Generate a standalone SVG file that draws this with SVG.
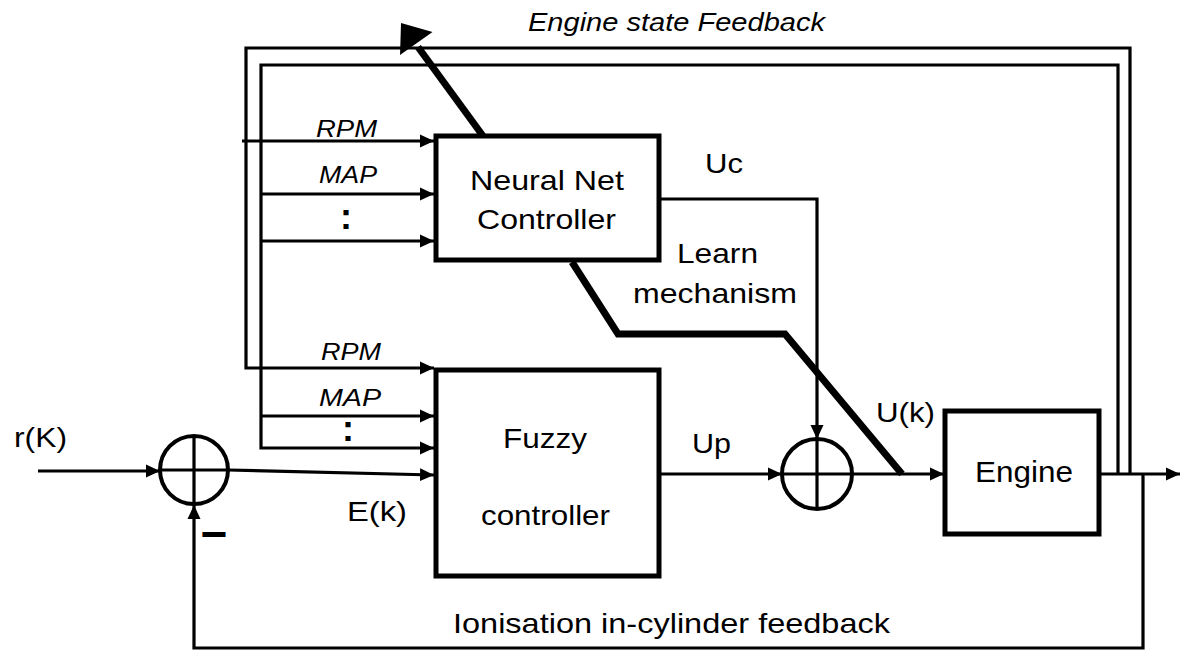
<svg xmlns="http://www.w3.org/2000/svg" width="1181" height="651" viewBox="0 0 1181 651">
<style>
.t{font-family:"Liberation Sans",Arial,sans-serif;fill:#000;}
.i{font-style:italic;}
.box{fill:#fff;stroke:#000;stroke-width:5;}
.ln{fill:none;stroke:#000;stroke-width:3.2;}
.thk{fill:none;stroke:#000;stroke-width:7;stroke-linejoin:miter;}
.sum{fill:none;stroke:#000;stroke-width:4;}
</style>
<defs>
<marker id="ah" markerUnits="userSpaceOnUse" markerWidth="15" markerHeight="16" refX="14" refY="8" orient="auto">
<path d="M0,1.5 L14,8 L0,14.5 Z" fill="#000"/>
</marker>
</defs>
<rect width="1181" height="651" fill="#fff"/>
<g id="connectors">
<polyline class="ln" points="1130,474 1130,48 246,48 246,368 434,368" marker-end="url(#ah)"/>
<line class="ln" x1="242" y1="141" x2="434" y2="141" marker-end="url(#ah)"/>
<polyline class="ln" points="1118,474 1118,65 261,65 261,448 434,448" marker-end="url(#ah)"/>
<line class="ln" x1="261" y1="194" x2="434" y2="194" marker-end="url(#ah)"/>
<line class="ln" x1="261" y1="241" x2="434" y2="241" marker-end="url(#ah)"/>
<line class="ln" x1="261" y1="416" x2="434" y2="416" marker-end="url(#ah)"/>
<line class="ln" x1="38" y1="471" x2="160" y2="471" marker-end="url(#ah)"/>
<line class="ln" x1="228" y1="470" x2="434" y2="475" marker-end="url(#ah)"/>
<line class="ln" x1="659" y1="474" x2="782" y2="474" marker-end="url(#ah)"/>
<polyline class="ln" points="659,199 817,199 817,439" marker-end="url(#ah)"/>
<line class="ln" x1="852" y1="474" x2="944" y2="474" marker-end="url(#ah)"/>
<line class="ln" x1="1099" y1="474" x2="1180" y2="474" marker-end="url(#ah)"/>
<polyline class="ln" points="1143,474 1143,648 194,648 194,505" marker-end="url(#ah)"/>
<polyline class="thk" points="572,262 618,334 785,334 902,474"/>
<line class="thk" x1="483" y1="136" x2="418" y2="47"/>
<polygon points="432.5,32 400,55 401,23" fill="#000"/>
</g>
<g id="sum1">
<circle class="sum" cx="194" cy="470" r="34"/>
<line class="ln" x1="160" y1="470" x2="228" y2="470"/>
<line class="ln" x1="194" y1="436" x2="194" y2="504"/>
</g>
<g id="sum2">
<circle class="sum" cx="817" cy="474" r="35"/>
<line class="ln" x1="782" y1="474" x2="852" y2="474"/>
<line class="ln" x1="817" y1="439" x2="817" y2="509"/>
</g>
<g id="nn">
<rect class="box" x="436" y="136" width="223" height="124"/>
<text class="t" x="470" y="190" font-size="28" textLength="154" lengthAdjust="spacingAndGlyphs">Neural Net</text>
<text class="t" x="477" y="229" font-size="28" textLength="139" lengthAdjust="spacingAndGlyphs">Controller</text>
</g>
<g id="fuzzy">
<rect class="box" x="436" y="370" width="223" height="206"/>
<text class="t" x="503" y="448" font-size="28" textLength="84" lengthAdjust="spacingAndGlyphs">Fuzzy</text>
<text class="t" x="481" y="525" font-size="28" textLength="129" lengthAdjust="spacingAndGlyphs">controller</text>
</g>
<g id="engine">
<rect class="box" x="945" y="411" width="154" height="123"/>
<text class="t" x="975" y="482" font-size="30" textLength="98" lengthAdjust="spacingAndGlyphs">Engine</text>
</g>
<g id="labels">
<text class="t i" x="528" y="31" font-size="26" textLength="297" lengthAdjust="spacingAndGlyphs">Engine state Feedback</text>
<text class="t i" x="316" y="137" font-size="24" textLength="61" lengthAdjust="spacingAndGlyphs">RPM</text>
<text class="t i" x="319" y="183" font-size="24" textLength="58" lengthAdjust="spacingAndGlyphs">MAP</text>
<text class="t" x="346" y="229" font-size="36" font-weight="bold" text-anchor="middle">:</text>
<text class="t i" x="321" y="360" font-size="24" textLength="60" lengthAdjust="spacingAndGlyphs">RPM</text>
<text class="t i" x="319" y="406" font-size="24" textLength="62" lengthAdjust="spacingAndGlyphs">MAP</text>
<text class="t" x="348" y="441" font-size="36" font-weight="bold" text-anchor="middle">:</text>
<text class="t" x="705" y="173" font-size="28" textLength="38" lengthAdjust="spacingAndGlyphs">Uc</text>
<text class="t" x="677" y="263" font-size="28" textLength="81" lengthAdjust="spacingAndGlyphs">Learn</text>
<text class="t" x="633" y="303" font-size="28" textLength="164" lengthAdjust="spacingAndGlyphs">mechanism</text>
<text class="t" x="14" y="447" font-size="28" textLength="53" lengthAdjust="spacingAndGlyphs">r(K)</text>
<text class="t" x="347" y="521" font-size="28" textLength="60" lengthAdjust="spacingAndGlyphs">E(k)</text>
<text class="t" x="214" y="550" font-size="46" font-weight="bold" text-anchor="middle">−</text>
<text class="t" x="692" y="453" font-size="28" textLength="39" lengthAdjust="spacingAndGlyphs">Up</text>
<text class="t" x="876" y="422" font-size="28" textLength="59" lengthAdjust="spacingAndGlyphs">U(k)</text>
<text class="t" x="453" y="633" font-size="28" textLength="437" lengthAdjust="spacingAndGlyphs">Ionisation in-cylinder feedback</text>
</g>
</svg>
